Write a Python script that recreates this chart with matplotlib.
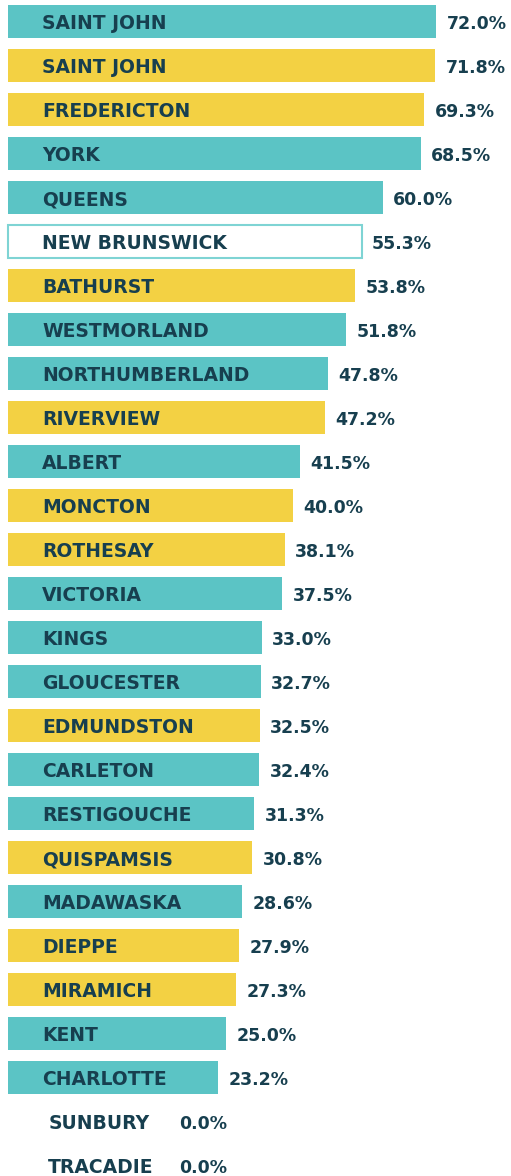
import matplotlib.pyplot as plt

# region names, share values and region type (top to bottom)
names = ['SAINT JOHN', 'SAINT JOHN', 'FREDERICTON', 'YORK', 'QUEENS', 'NEW BRUNSWICK',
         'BATHURST', 'WESTMORLAND', 'NORTHUMBERLAND', 'RIVERVIEW', 'ALBERT', 'MONCTON',
         'ROTHESAY', 'VICTORIA', 'KINGS', 'GLOUCESTER', 'EDMUNDSTON', 'CARLETON',
         'RESTIGOUCHE', 'QUISPAMSIS', 'MADAWASKA', 'DIEPPE', 'MIRAMICH', 'KENT',
         'CHARLOTTE', 'SUNBURY', 'TRACADIE']
values = [72.0, 71.8, 69.3, 68.5, 60.0, 55.3, 53.8, 51.8, 47.8, 47.2, 41.5, 40.0,
          38.1, 37.5, 33.0, 32.7, 32.5, 32.4, 31.3, 30.8, 28.6, 27.9, 27.3, 25.0,
          23.2, 0.0, 0.0]
kinds = ['county', 'city', 'city', 'county', 'county', 'province',
         'city', 'county', 'county', 'city', 'county', 'city',
         'city', 'county', 'county', 'county', 'city', 'county',
         'county', 'city', 'county', 'city', 'city', 'county',
         'county', 'county', 'city']

TEAL = '#5bc4c5'
YELLOW = '#f3d143'
NAVY = '#173f4f'
face = {'county': TEAL, 'city': YELLOW, 'province': 'white'}
edge = {'county': TEAL, 'city': YELLOW, 'province': '#7fd4d4'}

BASE = -23.8  # bars start left of zero so the names fit inside

fig = plt.figure(figsize=(5.11, 11.76), dpi=100)
ax = fig.add_axes([0, 0, 1, 1])

for i, (n, v, k) in enumerate(zip(names, values, kinds)):
    if v > 0:
        ax.barh(i, v - BASE, left=BASE, height=0.75, color=face[k],
                edgecolor=edge[k], linewidth=1.5 if k == 'province' else 0)
        name_x, val_x = -16.2, v + 2.3
    else:
        name_x, val_x = -14.8, 14.5
    ax.text(name_x, i + 0.04, n, color=NAVY, fontsize=13.5, fontweight='bold',
            family='DejaVu Sans', va='center', ha='left')
    ax.text(val_x, i + 0.04, f'{v:.1f}%', color=NAVY, fontsize=12.5,
            fontweight='bold', family='DejaVu Sans', va='center', ha='left')

ax.set_xlim(-25.6, 88.7)
ax.set_ylim(26.23, -0.5)
ax.axis('off')

fig.savefig('out.png', dpi=100)
